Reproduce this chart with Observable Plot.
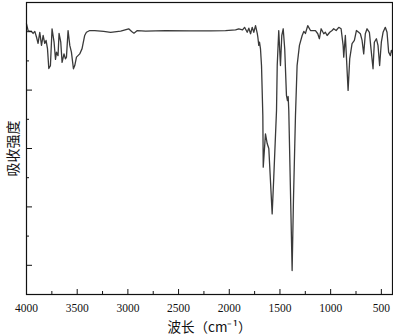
<!DOCTYPE html>
<html>
<head>
<meta charset="utf-8">
<script src="https://cdn.jsdelivr.net/npm/d3@7"></script>
<script src="https://cdn.jsdelivr.net/npm/@observablehq/plot@0.6"></script>
<style>
  html, body { margin: 0; padding: 0; background: #fff; }
  #chart { width: 393px; height: 336px; }
</style>
</head>
<body>
<div id="chart"></div>
<script>
// Wavenumber (cm^-1) and signal (%)
const wavenumber = [
  4000, 3984, 3967, 3953, 3935, 3918, 3901, 3886, 3869, 3852,
  3836, 3820, 3807, 3793, 3780, 3764, 3748, 3728, 3714, 3704,
  3689, 3679, 3662, 3649, 3630, 3616, 3606, 3590, 3573, 3557,
  3537, 3524, 3507, 3475, 3452, 3426, 3409, 3376, 3327, 3239,
  3170, 3071, 2992, 2963, 2940, 2907, 2825, 2628, 2381, 2184,
  2037, 1938, 1906, 1869, 1849, 1823, 1807, 1790, 1774, 1758,
  1741, 1724, 1718, 1709, 1702, 1692, 1682, 1669, 1665, 1643,
  1626, 1610, 1577, 1561, 1534, 1527, 1512, 1495, 1482, 1468,
  1453, 1436, 1426, 1419, 1413, 1380, 1367, 1347, 1331, 1308,
  1281, 1265, 1249, 1226, 1199, 1173, 1150, 1127, 1111, 1094,
  1068, 1052, 1035, 1009, 986, 970, 946, 920, 897, 877,
  871, 855, 828, 812, 789, 766, 746, 724, 707, 690,
  674, 658, 641, 618, 602, 582, 569, 549, 533, 517,
  500, 483, 461, 444, 428, 411, 401, 391
];
const signal = [
  92.7, 90.4, 90.1, 90.2, 89.4, 90.1, 88.1, 86.0, 89.8, 85.3,
  88.7, 86.0, 87.0, 84.2, 77.4, 78.4, 91.0, 86.4, 80.5, 83.0,
  81.8, 89.4, 86.4, 79.5, 82.4, 80.7, 81.3, 90.4, 85.3, 83.0,
  77.3, 78.4, 81.3, 82.4, 84.2, 88.7, 89.8, 90.4, 90.4, 90.1,
  89.8, 90.2, 91.0, 90.1, 89.5, 90.4, 90.2, 90.4, 90.3, 90.3,
  90.4, 90.6, 91.0, 90.6, 91.5, 89.8, 91.2, 89.3, 91.5, 89.8,
  92.1, 89.4, 88.1, 85.3, 86.4, 84.1, 78.4, 61.3, 43.6, 55.0,
  51.7, 50.0, 27.6, 40.2, 63.0, 78.4, 90.4, 78.4, 88.7, 91.0,
  84.1, 68.2, 66.4, 67.8, 63.0, 8.2, 32.2, 61.3, 78.4, 85.3,
  88.7, 90.1, 89.4, 92.1, 90.4, 90.4, 90.4, 89.3, 87.6, 91.0,
  89.3, 89.8, 88.7, 89.8, 90.4, 91.0, 90.4, 91.5, 91.0, 85.3,
  81.3, 88.7, 69.9, 80.7, 85.9, 87.0, 90.4, 89.8, 89.3, 87.0,
  82.4, 89.3, 91.0, 89.8, 84.1, 77.3, 86.4, 87.6, 85.3, 78.4,
  86.4, 89.8, 91.5, 89.8, 83.0, 81.8, 83.6, 82.9
];
const xMajorTicks = [4000, 3500, 3000, 2500, 2000, 1500, 1000, 500];
const xMinorTicks = [3750, 3250, 2750, 2250, 1750, 1250, 750];
const yMajorTicks = [10, 30, 50, 70, 90];
const yMinorTicks = [0, 20, 40, 60, 80, 100];
const xLabel = "波长（cm⁻¹）";
const yLabel = "吸收强度";

const data = wavenumber.map((w, i) => ({w, s: signal[i]}));

const numFont = "'Liberation Serif', 'DejaVu Serif', serif";
const cjkFont = "'Noto Sans CJK SC', sans-serif";

const chart = Plot.plot({
  width: 393,
  height: 336,
  marginLeft: 26,
  marginRight: 1,
  marginTop: 2,
  marginBottom: 42,
  style: {background: "white", fontFamily: numFont, color: "#111"},
  x: {domain: [4000, 390]},
  y: {domain: [0, 100]},
  marks: [
    Plot.line(data, {x: "w", y: "s", stroke: "#3a3a3a", strokeWidth: 1.3}),
    Plot.axisX(xMajorTicks, {tickSize: -5, text: null, label: null, stroke: "#111"}),
    Plot.axisX(xMinorTicks, {tickSize: -3, text: null, label: null, stroke: "#111"}),
    Plot.axisX(xMajorTicks, {tickSize: 0, tickPadding: 9, fontSize: 11.5, fontFamily: numFont, fill: "#111", label: null, tickFormat: d => String(d)}),
    Plot.axisY(yMajorTicks, {tickSize: -6, text: null, label: null, stroke: "#111"}),
    Plot.axisY(yMinorTicks, {tickSize: -3, text: null, label: null, stroke: "#111"}),
    Plot.frame({stroke: "#111", strokeWidth: 1.2}),
    Plot.text([xLabel], {frameAnchor: "bottom", dy: 37, fontSize: 13.5, fontFamily: cjkFont, fill: "#111"}),
    Plot.text([yLabel], {frameAnchor: "left", dx: -13, rotate: -90, textAnchor: "middle", fontSize: 14, fontFamily: cjkFont, fill: "#111"})
  ]
});
document.getElementById("chart").appendChild(chart);
</script>
</body>
</html>
